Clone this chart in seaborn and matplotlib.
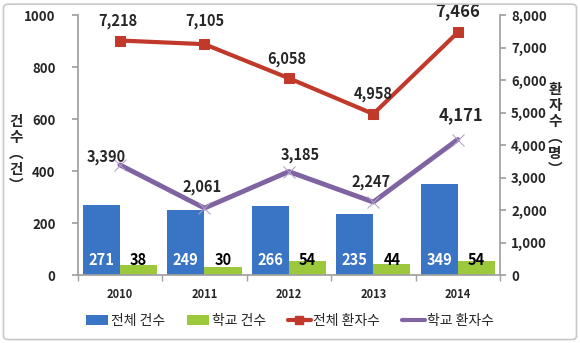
import matplotlib
matplotlib.use("Agg")
import matplotlib.pyplot as plt
import seaborn as sns
import pandas as pd
from matplotlib.patches import FancyBboxPatch, Patch
from matplotlib.lines import Line2D

years = ["2010", "2011", "2012", "2013", "2014"]
total_cases = [271, 249, 266, 235, 349]
school_cases = [38, 30, 54, 44, 54]
total_patients = [7218, 7105, 6058, 4958, 7466]
school_patients = [3390, 2061, 3185, 2247, 4171]

bar_names = ["전체 건수", "학교 건수"]
line_names = ["전체 환자수", "학교 환자수"]

sns.set_theme(style="white")
plt.rcParams['font.family'] = ['Noto Sans CJK KR', 'DejaVu Sans']

c_blue = "#3A74C4"
c_green = "#9CC83C"
c_red = "#C0392B"
c_purple = "#8064A2"

bars_df = pd.DataFrame({
    "year": years * 2,
    "value": total_cases + school_cases,
    "kind": [bar_names[0]] * len(years) + [bar_names[1]] * len(years),
})

fig = plt.figure(figsize=(5.8, 3.43), dpi=100)
ax = fig.add_axes([0.134, 0.198, 0.728, 0.758])

sns.barplot(data=bars_df, x="year", y="value", hue="kind", order=years,
            hue_order=bar_names, palette=[c_blue, c_green], width=0.88,
            gap=0, ax=ax, legend=False, saturation=1, edgecolor="none")

ax.set_ylim(0, 1000)
ax.set_yticks(range(0, 1001, 200))
ax.set_xlim(-0.5, len(years) - 0.5)
ax.set_xlabel("")
ax.set_ylabel("")

# bar value labels
for cont, col in zip(ax.containers, ["white", "black"]):
    for rect in cont:
        ax.text(rect.get_x() + rect.get_width() / 2, 58, f"{int(rect.get_height())}",
                ha="center", va="center", fontsize=10.5, fontweight="bold", color=col)

ax2 = ax.twinx()
sns.lineplot(x=years, y=total_patients, ax=ax2, color=c_red, marker="s",
             markersize=7, linewidth=3, markeredgecolor=c_red, sort=False)
sns.lineplot(x=years, y=school_patients, ax=ax2, color=c_purple, marker="x",
             markersize=8, linewidth=3.5, markeredgecolor="#B0A0C8", sort=False)
ax2.set_ylim(0, 8000)
ax2.set_yticks(range(0, 8001, 1000))
ax2.set_yticklabels([f"{v:,}" for v in range(0, 8001, 1000)])
ax2.set_xlim(-0.5, len(years) - 0.5)
ax2.set_ylabel("")

px = 0.72  # points per pixel
red_off = [(-2, 20), (0, 23), (-2, 19), (0, 20), (0, 21)]
purple_off = [(-14, 8), (-2, 21), (11, 17), (-2, 20), (3, 24)]
for i, v in enumerate(total_patients):
    fs = 12 if i == len(years) - 1 else 10.5
    dx, dy = red_off[i]
    ax2.annotate(f"{v:,}", (i, v), xytext=(dx * px, dy * px), textcoords="offset points",
                 ha="center", va="center", fontsize=fs, fontweight="bold")
for i, v in enumerate(school_patients):
    fs = 12 if i == len(years) - 1 else 10.5
    dx, dy = purple_off[i]
    ax2.annotate(f"{v:,}", (i, v), xytext=(dx * px, dy * px), textcoords="offset points",
                 ha="center", va="center", fontsize=fs, fontweight="bold")

# axes styling
spine_col = "#A0A0A0"
for a in (ax, ax2):
    a.spines["top"].set_visible(False)
    for s in ["left", "right", "bottom"]:
        a.spines[s].set_color(spine_col)
ax.spines["right"].set_visible(False)
ax2.spines["left"].set_visible(False)
ax2.spines["bottom"].set_visible(False)

ax.tick_params(axis="y", which="major", length=4, color=spine_col, direction="out",
               left=True, labelsize=9.5, pad=12)
ax2.tick_params(axis="y", which="major", length=4, color=spine_col, direction="out",
                right=True, labelsize=9.5, pad=4)
for lab in ax.get_yticklabels() + ax2.get_yticklabels():
    lab.set_fontweight("bold")

ax.set_xticks(range(len(years)))
ax.set_xticklabels(years)
ax.tick_params(axis="x", which="major", length=0, labelsize=8, pad=9)
for lab in ax.get_xticklabels():
    lab.set_fontweight("bold")
ax.set_xticks([i - 0.5 for i in range(len(years) + 1)], minor=True)
ax.tick_params(axis="x", which="minor", length=4, color=spine_col, bottom=True)

# axis titles (vertical stacked)
fig.text(0.028, 0.555, "건\n수\n︵\n건\n︶", ha="center", va="center",
         fontsize=10.5, fontweight="bold", linespacing=1.0)
fig.text(0.957, 0.625, "환\n자\n수\n︵\n명\n︶", ha="center", va="center",
         fontsize=10.5, fontweight="bold", linespacing=1.0)

# legend
handles = [
    Patch(facecolor=c_blue, edgecolor="none"),
    Patch(facecolor=c_green, edgecolor="none"),
    Line2D([0], [0], color=c_red, lw=3, marker="s", markersize=6),
    Line2D([0], [0], color=c_purple, lw=3),
]
fig.legend(handles, bar_names + line_names, loc="center", ncol=4,
           bbox_to_anchor=(0.5, 0.065), frameon=False, fontsize=10,
           handlelength=1.6, handletextpad=0.2, columnspacing=1.6)

# outer border
border = FancyBboxPatch((0.006, 0.01), 0.988, 0.978, boxstyle="round,pad=0,rounding_size=0.01",
                        transform=fig.transFigure, facecolor="none",
                        edgecolor="#C8C8C8", linewidth=1.2)
fig.patches.append(border)

fig.savefig("out.png", dpi=100)
